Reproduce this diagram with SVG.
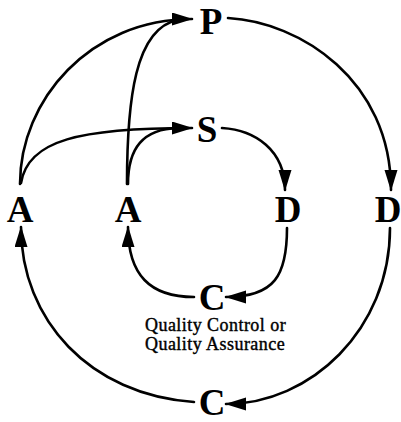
<svg xmlns="http://www.w3.org/2000/svg" width="401" height="422" viewBox="0 0 401 422">
<style>
.lbl{font-family:"Liberation Serif","Times New Roman",serif;font-weight:bold;font-size:37px;fill:#000;text-anchor:middle}
.note{font-family:"Liberation Serif","Times New Roman",serif;font-size:18px;letter-spacing:0.45px;fill:#000;stroke:#000;stroke-width:0.4}
.c{fill:none;stroke:#000;stroke-width:2.6;stroke-linecap:round}
.a{marker-end:url(#ah)}
</style>
<defs>
<marker id="ah" markerUnits="userSpaceOnUse" markerWidth="22" markerHeight="14" refX="20" refY="6.5" orient="auto">
<path d="M0,0 L21,6.5 L0,13 z" fill="#000"/>
</marker>
</defs>
<rect width="401" height="422" fill="#fff"/>
<g id="connectors">
<path class="c a" d="M20,184 C20,100 90,19 192,19"/>
<path class="c" d="M127,184 C127,100 135,28 178,20"/>
<path class="c a" d="M21,183 C28,140 80,128 192,128"/>
<path class="c" d="M128,184 C128,148 143,129 178,128"/>
<path class="c a" d="M228,18 C300,22 391,80 391,190"/>
<path class="c a" d="M222,128 C255,130 285,150 285,190"/>
<path class="c a" d="M287,228 C287,275 275,297 226,297"/>
<path class="c a" d="M390,228 C390,330 310,404 226,404"/>
<path class="c a" d="M194,402 C90,395 21,320 21,227"/>
<path class="c a" d="M194,297 C150,297 128,275 128,227"/>
</g>
<g id="node-P"><text class="lbl" x="211" y="34">P</text></g>
<g id="node-S"><text class="lbl" x="207" y="142">S</text></g>
<g id="node-A1"><text class="lbl" x="20" y="222">A</text></g>
<g id="node-A2"><text class="lbl" x="128" y="222">A</text></g>
<g id="node-D1"><text class="lbl" x="288" y="222">D</text></g>
<g id="node-D2"><text class="lbl" x="388" y="222">D</text></g>
<g id="node-C1">
<text class="lbl" x="212" y="310">C</text>
<text class="note" x="145" y="331">Quality Control or</text>
<text class="note" x="145" y="350">Quality Assurance</text>
</g>
<g id="node-C2"><text class="lbl" x="212" y="415">C</text></g>
</svg>
